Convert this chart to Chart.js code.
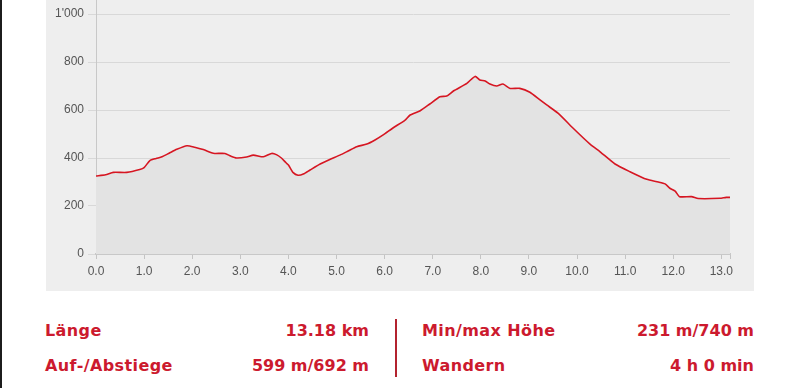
<!DOCTYPE html>
<html>
<head>
<meta charset="utf-8">
<script src="https://cdn.jsdelivr.net/npm/chart.js@4"></script>
<style>
  html, body { margin: 0; padding: 0; background: #fff; }
  body { width: 800px; height: 388px; position: relative; overflow: hidden; }
  .edge { position: absolute; left: 0; top: 0; width: 2px; height: 388px; background: #1c1c1c; }
  .panel { position: absolute; left: 46px; top: 0; width: 708px; height: 291px; background: #eeeeee; overflow: hidden; }
  .panel canvas { position: absolute; left: 0; top: -10px; }
  .stat { position: absolute; font-family: "DejaVu Sans", Verdana, sans-serif; font-weight: bold;
          font-size: 16px; color: #cc1a2e; line-height: 20px; white-space: nowrap; }
  .lbl { letter-spacing: 0.4px; }
  .divider { position: absolute; left: 395px; top: 319px; width: 2px; height: 58px; background: #b3232f; }
</style>
</head>
<body>
<div class="edge"></div>
<div class="panel"><canvas id="profile" width="708" height="301"></canvas></div>

<div class="stat lbl" style="left:45px; top:321px;">Länge</div>
<div class="stat" style="right:431px; top:321px;">13.18 km</div>
<div class="stat lbl" style="left:45px; top:356px;">Auf-/Abstiege</div>
<div class="stat" style="right:431px; top:356px;">599 m/692 m</div>
<div class="divider"></div>
<div class="stat lbl" style="left:422px; top:321px;">Min/max Höhe</div>
<div class="stat" style="right:46px; top:321px;">231 m/740 m</div>
<div class="stat lbl" style="left:422px; top:356px;">Wandern</div>
<div class="stat" style="right:46px; top:356px;">4 h 0 min</div>

<script>
// distance in km, elevation in m
const distance = [0.0, 0.2, 0.36, 0.64, 0.91, 1.0, 1.12, 1.25, 1.37, 1.52, 1.68, 1.89, 2.05, 2.23, 2.4, 2.47,
  2.68, 2.8, 2.92, 3.13, 3.27, 3.48, 3.65, 3.76, 3.86, 3.95, 4.0, 4.1, 4.2, 4.31, 4.45, 4.66, 4.86, 5.07,
  5.25, 5.42, 5.63, 5.8, 5.97, 6.18, 6.42, 6.53, 6.74, 6.94, 7.15, 7.29, 7.43, 7.71, 7.88, 7.98, 8.09,
  8.19, 8.33, 8.46, 8.61, 8.81, 9.02, 9.23, 9.37, 9.61, 9.92, 10.27, 10.48, 10.79, 11.1, 11.45, 11.69,
  11.83, 11.93, 12.04, 12.13, 12.38, 12.52, 12.97, 13.1, 13.18];
const elevation = [325, 330, 340, 340, 352, 360, 389, 398, 405, 420, 436, 451, 445, 435, 422, 419,
  419, 408, 400, 404, 412, 405, 419, 413, 399, 380, 371, 339, 328, 333, 350, 375, 394, 412,
  430, 447, 458, 475, 496, 526, 557, 579, 597, 625, 655, 658, 679, 711, 740, 725, 721,
  708, 700, 708, 690, 690, 674, 642, 621, 586, 524, 458, 426, 375, 343, 311, 300,
  292, 274, 262, 239, 239, 231, 232, 236, 236];

const xTicks = [0, 1, 2, 3, 4, 5, 6, 7, 8, 9, 10, 11, 12, 13];
const yTicks = [0, 200, 400, 600, 800, 1000];
const totalKm = 13.18;

const points = distance.map((d, i) => ({ x: d, y: elevation[i] }));
const tickFont = { family: '"Liberation Sans", Arial, sans-serif', size: 12 };

new Chart(document.getElementById('profile'), {
  type: 'line',
  data: {
    datasets: [{
      data: points,
      borderColor: 'rgb(214, 22, 34)',
      borderWidth: 1.6,
      backgroundColor: '#e3e3e3',
      fill: 'origin',
      pointRadius: 0,
      tension: 0.2
    }]
  },
  options: {
    responsive: false,
    animation: false,
    layout: { padding: { left: 0, right: 24, top: 0, bottom: 0 } },
    plugins: { legend: { display: false }, tooltip: { enabled: false } },
    scales: {
      x: {
        type: 'linear',
        min: 0,
        max: totalKm,
        afterBuildTicks: s => { s.ticks = xTicks.concat([totalKm]).map(v => ({ value: v })); },
        afterFit: s => { s.height = 37; s.paddingLeft = 0; s.paddingRight = 0; },
        grid: { drawOnChartArea: false, color: '#c4c4c4', tickLength: 5 },
        border: { color: '#c8c8c8', width: 2 },
        ticks: {
          autoSkip: false, maxRotation: 0, padding: 5, color: '#555', font: tickFont,
          callback: v => (v === totalKm ? '' : v.toFixed(1))
        }
      },
      y: {
        min: 0,
        max: 1100,
        afterBuildTicks: s => { s.ticks = yTicks.map(v => ({ value: v })); },
        afterFit: s => { s.width = 50; s.paddingTop = 0; s.paddingBottom = 0; },
        grid: { color: '#d8d8d8', tickLength: 8 },
        border: { color: '#c8c8c8', width: 1 },
        ticks: {
          padding: 4, color: '#555', font: tickFont,
          callback: v => (v >= 1000 ? String(v).replace(/(\d)(\d{3})$/, "$1'$2") : String(v))
        }
      }
    }
  }
});
</script>
</body>
</html>
